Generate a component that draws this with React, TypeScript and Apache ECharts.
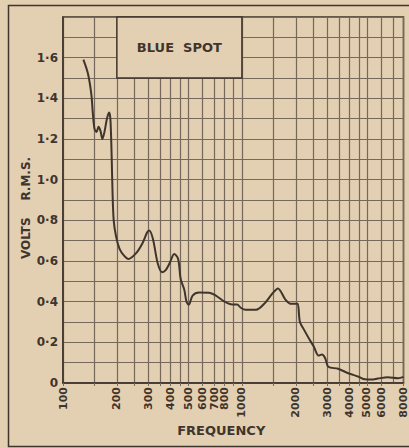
import React, { useEffect, useRef } from "react";
import * as echarts from "echarts";

const freqs = [130, 138, 144, 147, 150, 154, 158, 162, 166, 171, 176, 181, 184, 187, 189, 192, 198, 207, 220, 232, 257, 279, 295, 303, 318, 338, 358, 375, 395, 418, 440, 455, 476, 490, 505, 530, 576, 656, 715, 800, 883, 941, 985, 1050, 1200, 1350, 1480, 1590, 1750, 1870, 2000, 2050, 2110, 2230, 2400, 2520, 2680, 2800, 2920, 3040, 3450, 3930, 4490, 4870, 5300, 5760, 6540, 7470, 8000];
const volts = [1.59, 1.52, 1.42, 1.32, 1.25, 1.235, 1.26, 1.24, 1.2, 1.24, 1.3, 1.33, 1.3, 1.12, 0.95, 0.8, 0.72, 0.66, 0.625, 0.61, 0.64, 0.69, 0.74, 0.75, 0.71, 0.59, 0.545, 0.555, 0.59, 0.635, 0.61, 0.51, 0.46, 0.4, 0.385, 0.43, 0.445, 0.444, 0.43, 0.4, 0.386, 0.386, 0.37, 0.36, 0.36, 0.395, 0.44, 0.465, 0.41, 0.39, 0.39, 0.39, 0.3, 0.26, 0.21, 0.18, 0.135, 0.14, 0.122, 0.08, 0.07, 0.048, 0.031, 0.018, 0.017, 0.022, 0.028, 0.023, 0.03];

const gridFreqs = [100, 150, 200, 250, 300, 350, 400, 450, 500, 600, 700, 800, 900, 1000, 1500, 2000, 2500, 3000, 3500, 4000, 4500, 5000, 6000, 7000, 8000];
const freqLabels = [100, 200, 300, 400, 500, 600, 700, 800, 1000, 2000, 3000, 4000, 5000, 6000, 7000, 8000];
const voltLabels = [0, 0.2, 0.4, 0.6, 0.8, 1.0, 1.2, 1.4, 1.6];
const titleText = "BLUE  SPOT";
const boxRange = { f0: 200, f1: 1000, v0: 1.5, v1: 1.8 };

const BG = "#e3cfb1";
const INK = "#3f352d";
const GRID = "#76695c";
const FONT = "'DejaVu Sans', sans-serif";

export default function App() {
  const ref = useRef<HTMLDivElement>(null);
  useEffect(() => {
    if (!ref.current) return;
    const chart = echarts.init(ref.current, null, { renderer: "svg" });
    const data = freqs.map((f, i) => [f, volts[i]]);
    chart.setOption({
      animation: false,
      backgroundColor: BG,
      textStyle: { fontFamily: FONT },
      grid: {
        left: 63, right: 3, top: 17, bottom: 65,
        show: true, borderColor: INK, borderWidth: 1.5, backgroundColor: "transparent",
      },
      graphic: [
        {
          type: "rect",
          shape: { x: 8.5, y: 5.5, width: 410, height: 441 },
          style: { fill: "none", stroke: INK, lineWidth: 1.5 },
          silent: true,
        },
      ],
      xAxis: {
        type: "log",
        logBase: 10,
        min: 100,
        max: 8000.01,
        name: "FREQUENCY",
        nameLocation: "middle",
        nameGap: 41,
        nameMoveOverlap: false,
        nameTextStyle: { fontFamily: FONT, fontWeight: "bold", fontSize: 13, color: INK, padding: [0, 24, 0, 0] },
        axisLine: { show: true, lineStyle: { color: INK, width: 1.5 } },
        axisTick: { show: true, length: 3, customValues: gridFreqs, lineStyle: { color: GRID } },
        splitLine: { show: true, lineStyle: { color: GRID, width: 1.2 } },
        minorTick: { show: false },
        axisLabel: {
          customValues: freqLabels,
          showMaxLabel: true,
          showMinLabel: true,
          hideOverlap: false,
          rotate: 90,
          margin: 4,
          fontFamily: FONT,
          fontWeight: "bold",
          fontSize: 11,
          color: INK,
          formatter: (v: number) => String(Math.round(v)),
        },
      },
      yAxis: {
        type: "value",
        min: 0,
        max: 1.8,
        interval: 0.1,
        name: "VOLTS    R.M.S.",
        nameLocation: "middle",
        nameRotate: 90,
        nameGap: 31,
        nameMoveOverlap: false,
        nameTextStyle: { fontFamily: FONT, fontWeight: "bold", fontSize: 12, color: INK, padding: [0, 16, 0, 0] },
        axisLine: { show: true, lineStyle: { color: INK, width: 1.5 } },
        axisTick: { show: false },
        splitLine: { show: true, lineStyle: { color: GRID, width: 1.2 } },
        axisLabel: {
          margin: 5,
          fontFamily: FONT,
          fontWeight: "bold",
          fontSize: 12,
          color: INK,
          formatter: (v: number) => {
            const hit = voltLabels.find((t) => Math.abs(t - v) < 1e-6);
            if (hit === undefined) return "";
            if (hit === 0) return "0";
            return hit.toFixed(1).replace(".", "·");
          },
        },
      },
      series: [
        {
          type: "line",
          data,
          smooth: 0.3,
          showSymbol: false,
          lineStyle: { color: INK, width: 2 },
          markArea: {
            silent: true,
            itemStyle: { color: BG, borderColor: INK, borderWidth: 1.5 },
            label: {
              show: true,
              position: "inside",
              formatter: titleText,
              fontFamily: FONT,
              fontWeight: "bold",
              fontSize: 13,
              color: INK,
            },
            data: [[{ xAxis: boxRange.f0, yAxis: boxRange.v1 }, { xAxis: boxRange.f1, yAxis: boxRange.v0 }]],
          },
        },
      ],
    });
    return () => chart.dispose();
  }, []);
  return <div ref={ref} style={{ position: "fixed", left: 0, top: 0, width: 409, height: 448 }} />;
}
